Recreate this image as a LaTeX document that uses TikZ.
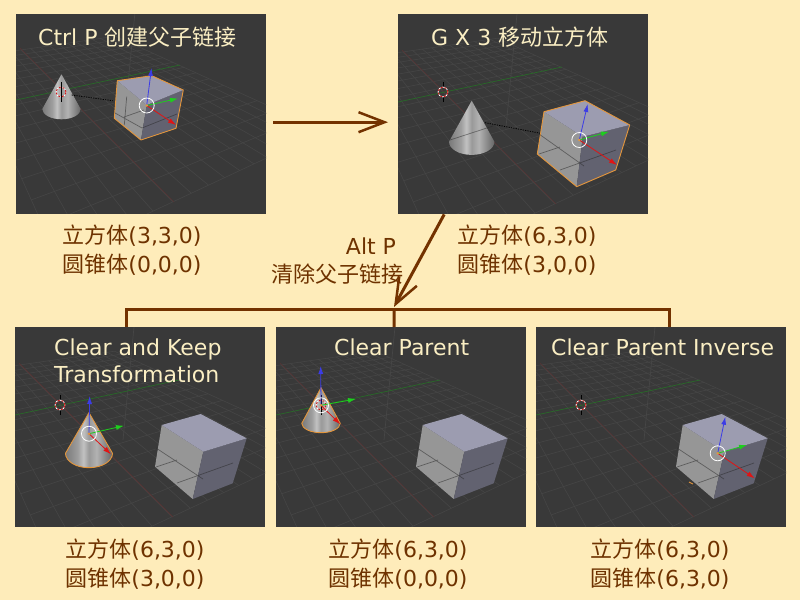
\documentclass[tikz,border=0pt]{standalone}
\usepackage{fontspec}
\setmainfont{DejaVu Sans}
\newfontfamily\cjk{Noto Sans CJK SC}
\usetikzlibrary{arrows.meta}
\definecolor{pagebg}{RGB}{254,236,186}
\definecolor{panelbg}{RGB}{57,57,57}
\definecolor{brownline}{RGB}{115,50,0}
\definecolor{browntext}{RGB}{110,50,0}
\definecolor{titletext}{RGB}{250,238,195}
\definecolor{gridc}{RGB}{70,70,70}
\definecolor{axisr}{RGB}{88,52,52}
\definecolor{axisg}{RGB}{40,105,40}
\definecolor{axisb}{RGB}{70,70,70}
\definecolor{sel}{RGB}{228,150,60}
\definecolor{cubeleft}{RGB}{150,150,150}
\definecolor{cuberight}{RGB}{98,98,112}
\definecolor{cubetop}{RGB}{156,156,176}
\definecolor{gizb}{RGB}{60,60,230}
\definecolor{gizg}{RGB}{30,205,30}
\definecolor{gizr}{RGB}{225,20,20}
\pgfdeclarehorizontalshading{conesh}{100bp}{
  color(0bp)=(black!52); color(25bp)=(black!52); color(38bp)=(black!38);
  color(44bp)=(black!24); color(50bp)=(black!40); color(58bp)=(black!30);
  color(68bp)=(black!48); color(75bp)=(black!60); color(100bp)=(black!60)}
\tikzset{
  panelbox/.style={draw=none,fill=panelbg,minimum width=250pt,minimum height=200pt,inner sep=0pt,anchor=north west},
  titlelabel/.style={text=titletext,inner sep=0pt,anchor=base west,font=\fontsize{22}{27}\selectfont},
  statelabel/.style={text=browntext,inner sep=0pt,align=center,font=\fontsize{22}{29}\selectfont},
  link/.style={draw=brownline,line width=3pt},
  linkarrow/.style={link,-{Straight Barb[length=26pt,width=20pt,line width=2.5pt]}},
  gridline/.style={draw=gridc,line width=.55pt},
  throughline/.style={draw=black!70!gray,line width=.7pt,opacity=.5},
  relline/.style={draw=black,line width=.8pt,dash pattern=on 1.2pt off 1.2pt},
}
\newcommand{\scenegrid}{%
  \foreach \i in {0,...,16}{%
    \pgfmathsetmacro\uu{-5+\i}%
    \pgfmathsetmacro\da{1+.02*\uu+.052*7.4}%
    \pgfmathsetmacro\db{1+.02*\uu-.052*8.4}%
    \draw[gridline] ({45+(13*\uu-7.5*7.4)/\da},{78+(-2.8*\uu-7.5*7.4)/\da}) -- ({45+(13*\uu+7.5*8.4)/\db},{78+(-2.8*\uu+7.5*8.4)/\db});
    \pgfmathsetmacro\vv{-7.4+.9875*\i}%
    \pgfmathsetmacro\da{1-.02*5-.052*\vv}%
    \pgfmathsetmacro\db{1+.02*11-.052*\vv}%
    \draw[gridline] ({45+(-13*5+7.5*\vv)/\da},{78+(2.8*5+7.5*\vv)/\da}) -- ({45+(13*11+7.5*\vv)/\db},{78+(-2.8*11+7.5*\vv)/\db});
  }%
  \draw[axisb,line width=.7pt] (119,0) -- (108,113);
  \draw[axisr,line width=.7pt] (4,36) -- (158,190);
  \draw[axisg,line width=.7pt] (0,88) -- (164,53);
}
% cursor at the world origin
\newcommand{\scenecursor}{%
  \draw[black,line width=.8pt] (45,68) -- (45,73) (45,83) -- (45,88);
  \draw[white,line width=.8pt] (45,78) circle[radius=5pt];
  \draw[red!80!black,line width=.8pt,dash pattern=on 2pt off 2pt] (45,78) circle[radius=5pt];
}
% cone: centre x, centre y, apex y, rx, ry, extra options
\newcommand{\coneobj}[6]{%
  \path[shading=conesh,#6]
    (#1,#3) -- ({#1-#4},#2) arc[start angle=180,end angle=0,x radius=#4,y radius=#5] -- cycle;
}
% cube: seven corners, outline colour
\newcommand{\cubeobj}[8]{%
  \fill[cubeleft] #1 -- #4 -- #6 -- #5 -- cycle;
  \fill[cuberight] #4 -- #3 -- #7 -- #6 -- cycle;
  \fill[cubetop] #1 -- #2 -- #3 -- #4 -- cycle;
  \draw[draw=#8,line width=.9pt,line join=round] #1 -- #2 -- #3 -- #7 -- #6 -- #5 -- cycle;
}
% gizmo: centre, blue tip, green tip, red tip
\newcommand{\gizmo}[4]{%
  \draw[gizb,line width=.8pt,-{Latex[length=8pt,width=5pt]}] #1 -- #2;
  \draw[gizg,line width=.8pt,-{Latex[length=8pt,width=5pt]}] #1 -- #3;
  \draw[gizr,line width=.8pt,-{Latex[length=8pt,width=5pt]}] #1 -- #4;
  \draw[white,line width=.8pt] #1 circle[radius=7.5pt];
  \fill[sel] #1 circle[radius=1.4pt];
}
\newcommand{\bigcube}{%
  \cubeobj{(146.7,98)}{(185.7,87)}{(231.7,111.3)}{(188.3,124.7)}{(140,139.7)}{(177.7,172)}{(217.7,156.3)}{none}%
  \draw[throughline] (141,121) -- (188,152) (141,140) -- (162,133) (162,156) -- (218,136);
}
\begin{document}
\begin{tikzpicture}[x=1pt,y=-1pt]
\useasboundingbox (0,0) rectangle (800,600);
\fill[pagebg] (0,0) rectangle (800,600);

\node[panelbox] (p1) at (16,14) {};
\node[panelbox] (p2) at (398,14) {};
\node[panelbox] (p3) at (15,327) {};
\node[panelbox] (p4) at (276,327) {};
\node[panelbox] (p5) at (536,327) {};

% panel 1
\begin{scope}[shift={(16,14)}]
  \clip (0,0) rectangle (250,200);
  \begin{scope}[shift={(0,-2)}]\scenegrid\end{scope}
  \coneobj{45.5}{95}{60.3}{19.2}{10.3}{}
  \scenecursor
  \draw[black,line width=1pt] (45,68) -- (45,88);
  \draw[relline] (55.7,81) -- (96.7,86.7);
  \cubeobj{(101.3,66.7)}{(135.7,61.7)}{(167.3,76)}{(130.7,91)}{(98.3,104.3)}{(125,126)}{(160,114.3)}{sel}
  \draw[throughline] (110.7,82.7) -- (108.3,111) (99,99) -- (126,114) (108,103) -- (128,96) (126,114) -- (161,100);
  \gizmo{(130.7,91.5)}{(135.5,54)}{(162,84.5)}{(160,111)}
\end{scope}

% panel 2
\begin{scope}[shift={(398,14)}]
  \clip (0,0) rectangle (250,200);
  \scenegrid
  \scenecursor
  \coneobj{73.7}{127.7}{86.7}{22.7}{13.2}{}
  \draw[throughline] (52,126) -- (95,112);
  \draw[relline] (87,108.7) -- (142.7,119.3);
  \cubeobj{(146,97.7)}{(187,86.7)}{(231.7,111)}{(184.7,122.7)}{(139.3,140)}{(178.7,172.7)}{(217.7,156)}{sel}
  \draw[throughline] (141,120) -- (186,152) (141,140) -- (162,133) (162,156) -- (218,136);
  \gizmo{(181.3,126)}{(189.7,90)}{(211,117.7)}{(219,151)}
\end{scope}

% panel 3
\begin{scope}[shift={(15,327)}]
  \clip (0,0) rectangle (250,200);
  \scenegrid
  \scenecursor
  \coneobj{74}{126.3}{85.7}{23.5}{14.4}{draw=sel,line width=.9pt}
  \bigcube
  \gizmo{(74,106.7)}{(74.7,69)}{(109,98.7)}{(96,127.3)}
\end{scope}

% panel 4
\begin{scope}[shift={(276,327)}]
  \clip (0,0) rectangle (250,200);
  \scenegrid
  \coneobj{45}{96.3}{60.7}{19.2}{9.4}{draw=sel,line width=.9pt}
  \scenecursor
  \draw[black,line width=1pt] (45,68) -- (45,88);
  \bigcube
  \gizmo{(45,78.3)}{(44.7,39)}{(80,72)}{(64.3,97.3)}
\end{scope}

% panel 5
\begin{scope}[shift={(536,327)}]
  \clip (0,0) rectangle (250,200);
  \scenegrid
  \scenecursor
  \draw[sel,line width=.9pt] (153,155) -- (157,157) (190,164) -- (197,161);
  \bigcube
  \gizmo{(181.7,126.3)}{(189.3,89.7)}{(211,118)}{(218.7,151.3)}
\end{scope}

% page colour below the panels
\fill[pagebg] (16,214) rectangle (266,219) (398,214) rectangle (648,219);
\fill[pagebg] (15,527) rectangle (265,532) (276,527) rectangle (526,532) (536,527) rectangle (786,532);

% titles
\node[titlelabel] (t1) at (38,45) {Ctrl P {\cjk 创建父子链接}};
\node[titlelabel] (t2) at (431,45) {G X 3 {\cjk 移动立方体}};
\node[titlelabel] (t3) at (54,355) {Clear and Keep};
\node[titlelabel] (t3b) at (54,382) {Transformation};
\node[titlelabel] (t4) at (334,355) {Clear Parent};
\node[titlelabel] (t5) at (551,355) {Clear Parent Inverse};

% state labels
\node[statelabel] (s1) at (132,250.5) {{\cjk 立方体}(3,3,0)\\{\cjk 圆锥体}(0,0,0)};
\node[statelabel] (s2) at (527,250.5) {{\cjk 立方体}(6,3,0)\\{\cjk 圆锥体}(3,0,0)};
\node[statelabel] (s3) at (135,564.5) {{\cjk 立方体}(6,3,0)\\{\cjk 圆锥体}(3,0,0)};
\node[statelabel] (s4) at (398,564.5) {{\cjk 立方体}(6,3,0)\\{\cjk 圆锥体}(0,0,0)};
\node[statelabel] (s5) at (660,564.5) {{\cjk 立方体}(6,3,0)\\{\cjk 圆锥体}(6,3,0)};
\node[statelabel] (alt) at (371,246) {Alt P};
\node[statelabel] (clr) at (337,274) {\cjk 清除父子链接};

% connectors
\coordinate (junction) at (394,309);
\draw[link] ([xshift=-14pt]p3.north) |- (junction) -| ([xshift=8pt]p5.north);
\draw[link] (junction) -- ([xshift=-7pt]p4.north);
\draw[linkarrow] ([xshift=7pt,yshift=-8pt]p1.east) -- ([xshift=-10pt,yshift=-8pt]p2.west);
\draw[linkarrow] ([xshift=-79pt]p2.south) -- ([yshift=2pt]junction);
\end{tikzpicture}
\end{document}
